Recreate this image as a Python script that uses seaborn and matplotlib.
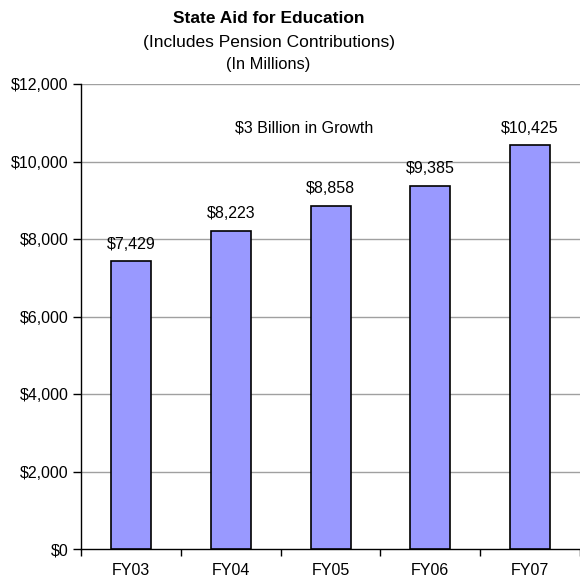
import numpy as np
import pandas as pd
import matplotlib
matplotlib.use('Agg')
import matplotlib.pyplot as plt
import seaborn as sns

# dados
anos = ['FY03', 'FY04', 'FY05', 'FY06', 'FY07']
valores = [7429, 8223, 8858, 9385, 10425]
yticks = [0, 2000, 4000, 6000, 8000, 10000, 12000]

dados = pd.DataFrame({'ano': anos, 'valor': valores})

sns.set_style('white')
plt.rcParams['font.family'] = ['Liberation Sans', 'DejaVu Sans']
plt.rcParams['text.color'] = 'black'
plt.rcParams['xtick.color'] = 'black'
plt.rcParams['ytick.color'] = 'black'

fig = plt.figure(figsize=(5.8, 5.81), dpi=100)
ax = fig.add_axes([0.14, 0.055, 0.86, 0.80])

sns.barplot(data=dados, x='ano', y='valor', color='#9999ff', saturation=1,
            width=0.4, edgecolor='black', linewidth=1.2, ax=ax, zorder=3)

ax.set_ylim(0, 12000)
ax.set_xlim(-0.5, 4.5)
ax.set_yticks(yticks)
ax.set_yticklabels([f'${v:,}' for v in yticks], fontsize=11.5)
ax.set_xlabel('')
ax.set_ylabel('')
ax.tick_params(axis='x', which='major', length=0, labelsize=11.5, pad=10)
ax.set_xticks(np.arange(-0.5, 5, 1), minor=True)
ax.tick_params(axis='x', which='minor', length=5, width=1, color='black',
               direction='out', bottom=True)
ax.tick_params(axis='y', length=6, width=1, color='black', direction='out',
               left=True, pad=3)

for v in yticks[1:]:
    ax.axhline(v, color='#a0a0a0', linewidth=1, zorder=1)

for s in ['top', 'right']:
    ax.spines[s].set_visible(False)
for s in ['left', 'bottom']:
    ax.spines[s].set_color('black')
    ax.spines[s].set_linewidth(1)

# rotulos das barras
for i, v in enumerate(valores):
    ax.text(i, v + 250, f'${v:,}', ha='center', va='bottom', fontsize=11.5)

ax.text(1.73, 10870, '$3 Billion in Growth', ha='center', va='center', fontsize=11.5)

fig.text(0.463, 0.968, 'State Aid for Education', ha='center', va='center',
         fontsize=12.5, fontweight='bold')
fig.text(0.463, 0.927, '(Includes Pension Contributions)', ha='center', va='center',
         fontsize=12.5)
fig.text(0.463, 0.889, '(In Millions)', ha='center', va='center', fontsize=11.8)

fig.savefig('out.png', dpi=100)
